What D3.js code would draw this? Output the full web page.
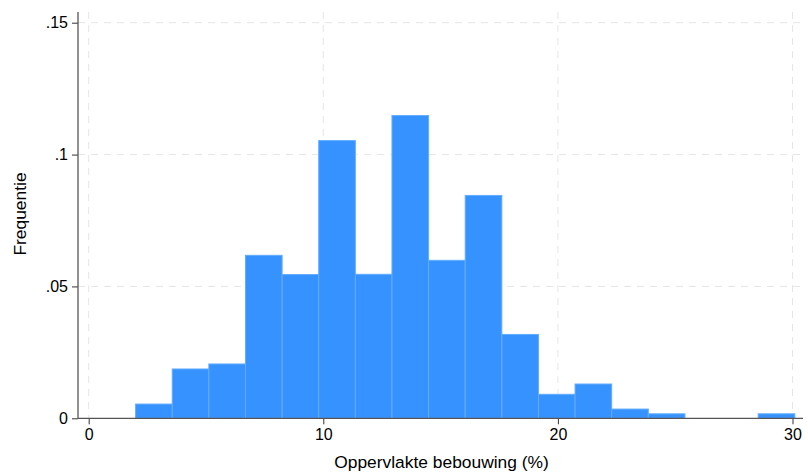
<!DOCTYPE html>
<html>
<head>
<meta charset="utf-8">
<script src="https://cdn.jsdelivr.net/npm/d3@7"></script>
<style>
  body { margin: 0; background: #fff; }
  svg { display: block; font-family: "Liberation Sans", Arial, Helvetica, sans-serif; }
</style>
</head>
<body>
<svg id="chart" width="808" height="472"></svg>
<script>
// Data
const binStart = 2.0;
const binWidth = 1.561;
const densities = [0.0054, 0.0187, 0.0206, 0.0618, 0.0545, 0.1053, 0.0546, 0.1148, 0.0599,
                   0.0845, 0.0318, 0.0091, 0.0130, 0.0035, 0.0017, 0, 0, 0.0017];
const xTicks = [0, 10, 20, 30];
const yTicks = [0, 0.05, 0.1, 0.15];
const yTickLabels = ["0", ".05", ".1", ".15"];
const xTitle = "Oppervlakte bebouwing (%)";
const yTitle = "Frequentie";

const bins = densities.map((d, i) => ({x0: binStart + i * binWidth, x1: binStart + (i + 1) * binWidth, v: d}));

const svg = d3.select("#chart");
const pLeft = 78, pRight = 803, pTop = 12, pBottom = 418.3;

const x = d3.scaleLinear().domain([0, 30]).range([88.7, 792.5]);
const y = d3.scaleLinear().domain([0, 0.15]).range([418.3, 22.7]);

const grid = svg.append("g").attr("stroke", "#e6e6e6").attr("stroke-width", 1).attr("stroke-dasharray", "7,6");
grid.selectAll("line.h").data(yTicks.filter(t => t > 0)).join("line")
  .attr("x1", pLeft).attr("x2", pRight - 3)
  .attr("y1", d => y(d)).attr("y2", d => y(d));
grid.selectAll("line.v").data(xTicks).join("line")
  .attr("x1", d => x(d)).attr("x2", d => x(d))
  .attr("y1", pTop).attr("y2", pBottom);

svg.append("g").selectAll("rect").data(bins.filter(b => b.v > 0)).join("rect")
  .attr("x", d => x(d.x0)).attr("width", d => x(d.x1) - x(d.x0))
  .attr("y", d => y(d.v)).attr("height", d => y(0) - y(d.v))
  .attr("fill", "#3592ff").attr("stroke", "#62acff").attr("stroke-width", 1);

// Y axis
const yAxis = d3.axisLeft(y).tickValues(yTicks).tickSize(6).tickPadding(4)
  .tickFormat((d, i) => yTickLabels[i]);
const gy = svg.append("g").attr("transform", `translate(${pLeft},0)`).call(yAxis);
gy.select(".domain").remove();
gy.append("line").attr("x1", 0).attr("x2", 0).attr("y1", pTop).attr("y2", pBottom).attr("stroke", "#555").attr("stroke-width", 1.3);
gy.selectAll(".tick line").attr("stroke", "#333");
gy.selectAll(".tick text").attr("font-size", 16).attr("fill", "#000").attr("font-family", "Liberation Sans, Arial, sans-serif");

// X axis
const xAxis = d3.axisBottom(x).tickValues(xTicks).tickSize(6).tickPadding(4).tickFormat(d3.format("d"));
const gx = svg.append("g").attr("transform", `translate(0,${pBottom})`).call(xAxis);
gx.select(".domain").remove();
gx.append("line").attr("x1", pLeft).attr("x2", pRight).attr("y1", 0).attr("y2", 0).attr("stroke", "#555").attr("stroke-width", 1.3);
gx.selectAll(".tick line").attr("stroke", "#333");
gx.selectAll(".tick text").attr("font-size", 16).attr("fill", "#000").attr("font-family", "Liberation Sans, Arial, sans-serif");

svg.append("text").attr("x", 441.5).attr("y", 467.5)
  .attr("text-anchor", "middle").attr("font-size", 17.4).attr("fill", "#000").text(xTitle);
svg.append("text").attr("transform", `translate(26,214) rotate(-90)`)
  .attr("text-anchor", "middle").attr("font-size", 17.4).attr("fill", "#000").text(yTitle);
</script>
</body>
</html>
